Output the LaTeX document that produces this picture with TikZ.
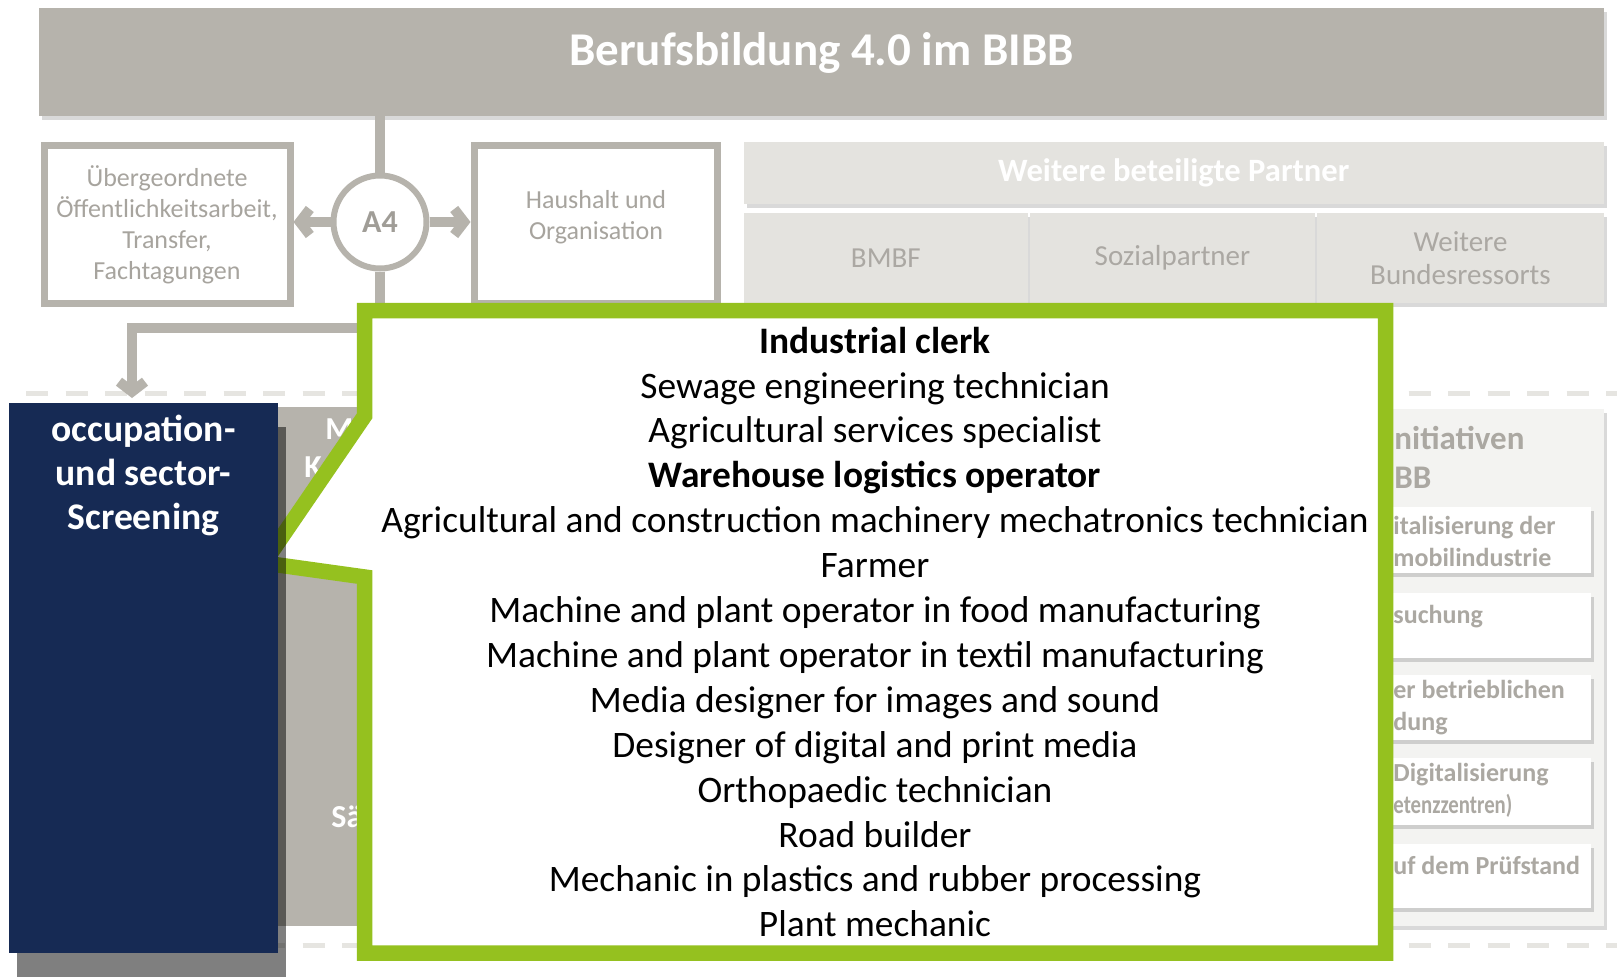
\documentclass[tikz,border=0pt]{standalone}
\usepackage{fontspec}
\setmainfont{Carlito}
\usepackage[dvipsnames]{xcolor}
\usepackage{graphicx}
\usetikzlibrary{arrows.meta,shadows}

\definecolor{BibbGrey}{HTML}{B6B3AC}
\definecolor{BoxText}{HTML}{A7A49E}
\definecolor{CircleText}{HTML}{A09D97}
\definecolor{PartnerFill}{HTML}{E4E3DF}
\definecolor{PartnerText}{HTML}{ABA8A3}
\definecolor{DashGrey}{HTML}{E6E5E1}
\definecolor{PanelFill}{HTML}{F3F3F1}
\definecolor{PanelText}{HTML}{ABA8A2}
\definecolor{CalloutGreen}{HTML}{95C11F}
\definecolor{ScreenBlue}{HTML}{162A54}

\tikzset{
	softshadow/.style={drop shadow={opacity=0.15,shadow xshift=1.5pt,shadow yshift=-2pt,fill=black}},
	greybox/.style={rectangle,draw=BibbGrey,line width=3.5pt,fill=white,softshadow},
	greytext/.style={align=center,text=BoxText,font=\fontsize{13}{15.5}\selectfont},
	cellbox/.style={rectangle,fill=PartnerFill,inner sep=0pt,softshadow},
	celltext/.style={align=center,text=PartnerText,font=\fontsize{14.5}{16.5}\selectfont},
	connector/.style={draw=BibbGrey,line width=5pt},
	connectorarrow/.style={connector,-{Straight Barb[length=5pt,width=13pt]}},
	sepline/.style={draw=DashGrey,line width=2.5pt,dash pattern=on 11pt off 8.75pt},
	fieldtext/.style={anchor=west,inner sep=0pt,text=white,font=\bfseries\fontsize{16}{19}\selectfont},
	initbox/.style={rectangle,fill=white,minimum width=185.5pt,softshadow},
	inittext/.style={anchor=west,inner sep=0pt,align=left,text=PanelText,font=\bfseries\fontsize{13}{16}\selectfont},
	jobframe/.style={draw=CalloutGreen,line width=7.75pt,fill=white,miter limit=20}
}

\begin{document}
\begin{tikzpicture}[x=0.5pt,y=-0.5pt]
	\path[use as bounding box,fill=white] (0,0) rectangle (1617,979);

	% dashed separators
	\coordinate (septopL) at (26,393);
	\coordinate (septopR) at (1617,393);
	\coordinate (sepbotL) at (26,945);
	\coordinate (sepbotR) at (1617,945);
	\draw[sepline] (septopL) -- (septopR);
	\draw[sepline] (sepbotL) -- (sepbotR);

	% top row
	\node (bibb)[rectangle,fill=BibbGrey,minimum width=782.5pt,minimum height=54pt,softshadow] at (821.5,62) {};
	\node (bibbtitle)[text=white,font=\bfseries\fontsize{23.5}{28}\selectfont] at (821.5,53) {Berufsbildung 4.0 im BIBB};
	\node (public)[greybox,greytext,minimum width=123pt,minimum height=78.5pt] at (167,224.5) {Übergeordnete\\Öffentlichkeitsarbeit,\\Transfer,\\Fachtagungen};
	\node (budget)[greybox,minimum width=121.5pt,minimum height=78.5pt] at (595.5,224.5) {};
	\node (budgettext)[greytext] at (596,217) {Haushalt und\\Organisation};
	\node (a4)[circle,draw=BibbGrey,line width=3pt,fill=white,minimum size=46.5pt,inner sep=0pt,text=CircleText,font=\bfseries\fontsize{16}{19}\selectfont] at (380,222) {A4};
	\draw[connector] (bibb.south -| a4.north) -- (a4.north);
	\draw[connectorarrow] (a4.west) -- (a4.west -| public.east);
	\draw[connectorarrow] (a4.east) -- (a4.east -| budget.west);

	% partners
	\node (partners)[cellbox,minimum width=430pt,minimum height=31pt,text=white,font=\bfseries\fontsize{16.3}{19}\selectfont] at (1173.8,173) {Weitere beteiligte Partner};
	\node (bmbf)[cellbox,celltext,minimum width=142.2pt,minimum height=45.25pt] at (885.8,257.75) {BMBF};
	\node (social)[cellbox,celltext,minimum width=142.5pt,minimum height=45.25pt] at (1172.5,257.75) {Sozialpartner};
	\node (ministries)[cellbox,celltext,minimum width=143.5pt,minimum height=45.25pt] at (1460.5,257.75) {Weitere\\Bundesressorts};

	% fields behind the callout
	\node (fields)[rectangle,fill=BibbGrey,minimum width=350pt,minimum height=259.5pt] at (500,666.5) {};
	\node (fieldM)[fieldtext] at (325,429) {M};
	\node (fieldK)[fieldtext] at (304,467) {K};
	\node (fieldS)[fieldtext] at (331,817) {Sä};

	% initiatives panel
	\node (initiatives)[rectangle,fill=PanelFill,minimum width=202pt,minimum height=258.5pt,softshadow] at (1402,667.5) {};
	\node (inithead)[inittext,font=\bfseries\fontsize{16.5}{19.5}\selectfont] at (1394,457.5) {nitiativen\\BB};
	\node (init1)[initbox,minimum height=33pt] at (1405.5,540) {};
	\node (init2)[initbox,minimum height=32.5pt] at (1405.5,625.5) {};
	\node (init3)[initbox,minimum height=32.5pt] at (1405.5,707.5) {};
	\node (init4)[initbox,minimum height=33.5pt] at (1405.5,791.5) {};
	\node (init5)[initbox,minimum height=32pt] at (1405.5,876) {};
	\node (init1text)[inittext] at (1393,541) {italisierung der\\mobilindustrie};
	\node (init2text)[inittext] at (1393,617) {suchung};
	\node (init3text)[inittext] at (1393,707.5) {er betrieblichen\\dung};
	\node (init4text)[inittext] at (1393,790.5) {Digitalisierung\\\scalebox{0.8}[1]{etenzzentren)}};
	\node (init5text)[inittext] at (1393,865) {uf dem Prüfstand};

	% link down to the screening
	\coordinate (bend) at (132,327.5);
	\coordinate (screentop) at (132,398);
	\draw[connectorarrow] (a4.south) |- (bend) -- (screentop);

	% callout with occupations
	\coordinate (tip) at (264,563);
	\draw[jobframe] (364.5,310.5) -- (1385.5,310.5) -- (1385.5,953) -- (364.5,953) -- (364.5,577) -- (tip) -- (364.5,416) -- cycle;
	\node (jobs)[align=center,font=\fontsize{18.7}{22.45}\selectfont] at (875,632) {
		\textbf{Industrial clerk}\\
		Sewage engineering technician\\
		Agricultural services specialist\\
		\textbf{Warehouse logistics operator}\\
		Agricultural and construction machinery mechatronics technician\\
		Farmer\\
		Machine and plant operator in food manufacturing\\
		Machine and plant operator in textil manufacturing\\
		Media designer for images and sound\\
		Designer of digital and print media\\
		Orthopaedic technician\\
		Road builder\\
		Mechanic in plastics and rubber processing\\
		Plant mechanic
	};

	% screening box
	\node (screening)[rectangle,fill=ScreenBlue,minimum width=134.5pt,minimum height=275pt,inner sep=0pt,drop shadow={opacity=0.5,shadow xshift=4pt,shadow yshift=-12pt,fill=black}] at (143.5,678) {};
	\node (screeningtext)[align=center,text=white,font=\bfseries\fontsize{18.8}{22}\selectfont] at (143.5,475) {occupation-\\und sector-\\Screening};
\end{tikzpicture}
\end{document}
